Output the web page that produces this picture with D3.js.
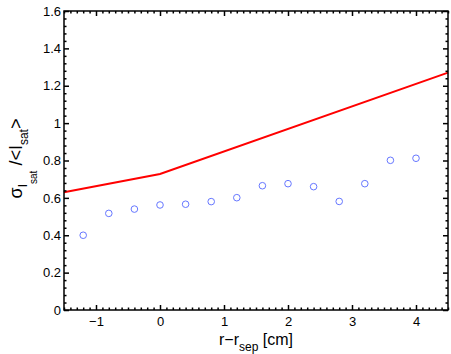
<!DOCTYPE html>
<html>
<head>
<meta charset="utf-8">
<script src="https://cdn.jsdelivr.net/npm/d3@7"></script>
<style>
  body { margin: 0; background: #fff; }
  text { font-family: "Liberation Sans", Arial, sans-serif; fill: #000; }
</style>
</head>
<body>
<div class="canvas"></div>
<script>
// measured points (blue circles)
const pointR = [-1.2, -0.8, -0.4, 0, 0.4, 0.8, 1.2, 1.6, 2.0, 2.4, 2.8, 3.2, 3.6, 4.0];
const pointVal = [0.40, 0.517, 0.54, 0.562, 0.566, 0.58, 0.601, 0.665, 0.676, 0.66, 0.581, 0.676, 0.801, 0.812];

// model curve (red line)
const lineR = [-1.5, 0, 4.5];
const lineVal = [0.63, 0.728, 1.27];

const xTicks = [-1, 0, 1, 2, 3, 4];
const yTicks = [0, 0.2, 0.4, 0.6, 0.8, 1, 1.2, 1.4, 1.6];

const dims = { width: 451, height: 354 };
const margin = { top: 11, right: 3, bottom: 44, left: 64 };

const svg = d3.select('.canvas')
    .append('svg')
    .attr('width', dims.width)
    .attr('height', dims.height)
;

const x = d3.scaleLinear().domain([-1.5, 4.5]).range([margin.left, dims.width - margin.right]);
const y = d3.scaleLinear().domain([0, 1.6]).range([dims.height - margin.bottom, margin.top]);

const graph = svg.append('g');

// red line
const line = d3.line().x((d, i) => x(lineR[i])).y(d => y(d));
graph.append('path')
    .datum(lineVal)
    .attr('d', line)
    .attr('fill', 'none')
    .attr('stroke', 'red')
    .attr('stroke-width', 2)
;

// circles
graph.selectAll('circle')
    .data(pointVal)
    .enter()
    .append('circle')
    .attr('cx', (d, i) => x(pointR[i]))
    .attr('cy', d => y(d))
    .attr('r', 3.3)
    .attr('fill', 'none')
    .attr('stroke', '#6677ff')
    .attr('stroke-width', 1)
;

// axes - inward ticks, box on all sides
const xMinor = d3.range(-15, 46).map(v => v / 10).filter(v => !xTicks.includes(v));
const yMinor = d3.range(0, 41).map(v => v / 25).filter(v => !yTicks.some(t => Math.abs(t - v) < 1e-9));

const x0 = x.range()[0], x1 = x.range()[1];
const y0 = y.range()[0], y1 = y.range()[1];

const addAxis = (axis, tf, showLabels) => {
    const g = svg.append('g').attr('transform', tf).call(axis);
    g.select('.domain').remove();
    g.selectAll('line').attr('stroke', '#000').attr('stroke-width', 1.5);
    if (!showLabels) g.selectAll('text').remove();
    else g.selectAll('text').attr('font-size', 13);
    return g;
};

addAxis(d3.axisBottom(x).tickValues(xTicks).tickSize(-5).tickPadding(7).tickFormat(d => d < 0 ? '\u2212' + Math.abs(d) : d),
    `translate(0,${y0})`, true);
addAxis(d3.axisBottom(x).tickValues(xMinor).tickSize(-2.5).tickFormat(''), `translate(0,${y0})`);
addAxis(d3.axisTop(x).tickValues(xTicks).tickSize(-5).tickFormat(''), `translate(0,${y1})`);
addAxis(d3.axisTop(x).tickValues(xMinor).tickSize(-2.5).tickFormat(''), `translate(0,${y1})`);

addAxis(d3.axisLeft(y).tickValues(yTicks).tickSize(-5).tickPadding(3).tickFormat(d3.format('~g')),
    `translate(${x0},0)`, true);
addAxis(d3.axisLeft(y).tickValues(yMinor).tickSize(-2.5).tickFormat(''), `translate(${x0},0)`);
addAxis(d3.axisRight(y).tickValues(yTicks).tickSize(-5).tickFormat(''), `translate(${x1},0)`);
addAxis(d3.axisRight(y).tickValues(yMinor).tickSize(-2.5).tickFormat(''), `translate(${x1},0)`);

// box
svg.append('rect')
    .attr('x', x0).attr('y', y1)
    .attr('width', x1 - x0).attr('height', y0 - y1)
    .attr('fill', 'none')
    .attr('stroke', '#000')
    .attr('stroke-width', 1.5)
;

// x label
const xl = svg.append('text')
    .attr('x', (x0 + x1) / 2)
    .attr('y', 345)
    .attr('text-anchor', 'middle')
    .attr('font-size', 16)
;
xl.append('tspan').text('r\u2212r');
xl.append('tspan').attr('font-size', 12).attr('dy', 6).text('sep');
xl.append('tspan').attr('dy', -6).text(' [cm]');

// y label
const yl = svg.append('text')
    .attr('transform', `translate(22,${(y0 + y1) / 2 - 2}) rotate(-90)`)
    .attr('text-anchor', 'middle')
    .attr('font-size', 18)
;
yl.append('tspan').text('\u03c3');
yl.append('tspan').attr('font-size', 12).attr('dy', 5).text('I');
yl.append('tspan').attr('font-size', 10).attr('dy', 10).text('sat');
yl.append('tspan').attr('dy', -15).text(' /<I');
yl.append('tspan').attr('font-size', 12).attr('dy', 6).text('sat');
yl.append('tspan').attr('dy', -6).text('>');
</script>
</body>
</html>
